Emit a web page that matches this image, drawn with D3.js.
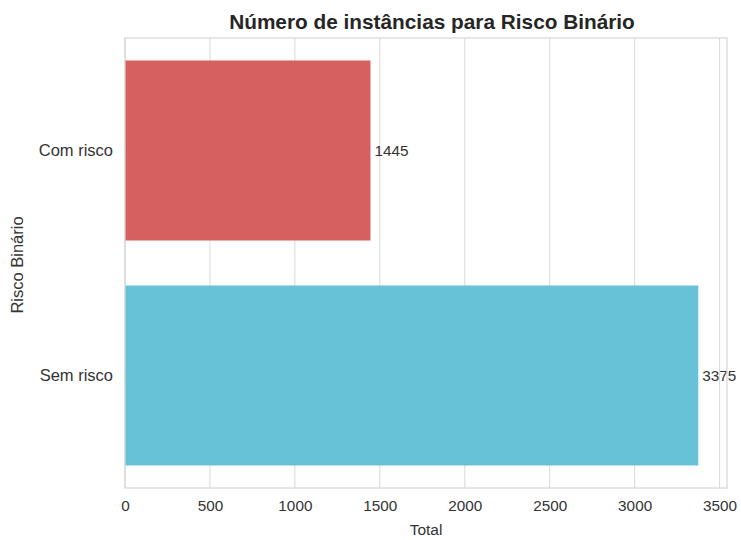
<!DOCTYPE html>
<html>
<head>
<meta charset="utf-8">
<script src="https://cdn.jsdelivr.net/npm/d3@7"></script>
<style>
  html, body { margin: 0; padding: 0; background: #fff; }
  svg { display: block; font-family: "Liberation Sans", Arial, sans-serif; }
</style>
</head>
<body>
<svg id="chart" width="741" height="540"></svg>
<script>
// Contagem de instâncias por classe de risco
const categories = ["Com risco", "Sem risco"];
const counts = [1445, 3375];
const barColors = ["#d65f5f", "#68c2d7"];
const xTicks = [0, 500, 1000, 1500, 2000, 2500, 3000, 3500];

const svg = d3.select("#chart");
const margin = { top: 38, right: 14, bottom: 52, left: 125 };
const W = 741, H = 540;
const innerW = W - margin.left - margin.right;
const innerH = H - margin.top - margin.bottom;
const FONT = "Liberation Sans, Arial, sans-serif";

const g = svg.append("g").attr("transform", `translate(${margin.left},${margin.top})`);

// 5% de folga à direita do maior valor
const xMax = d3.max(counts) * 1.05;
const x = d3.scaleLinear().domain([0, xMax]).range([0, innerW]);
const y = d3.scaleBand().domain(categories).range([0, innerH]).paddingInner(0.2).paddingOuter(0.1);

// Grade vertical
g.append("g").selectAll("line").data(xTicks).join("line")
  .attr("x1", d => x(d)).attr("x2", d => x(d))
  .attr("y1", 0).attr("y2", innerH)
  .attr("stroke", "#dcdcdc").attr("stroke-width", 1.1);

// Barras
g.append("g").selectAll("rect").data(categories).join("rect")
  .attr("x", x(0))
  .attr("y", d => y(d))
  .attr("width", (d, i) => x(counts[i]) - x(0))
  .attr("height", y.bandwidth())
  .attr("fill", (d, i) => barColors[i]);

// Rótulos de valor
g.append("g").selectAll("text").data(categories).join("text")
  .attr("x", (d, i) => x(counts[i]) + 4)
  .attr("y", d => y(d) + y.bandwidth() / 2)
  .attr("dy", "0.35em")
  .attr("font-size", 15.3)
  .attr("fill", "#333")
  .text((d, i) => counts[i]);

// Moldura
g.append("rect")
  .attr("x", 0).attr("y", 0).attr("width", innerW).attr("height", innerH)
  .attr("fill", "none").attr("stroke", "#d5d5d5").attr("stroke-width", 1.2);

// Eixo X
const xAxis = g.append("g").attr("transform", `translate(0,${innerH})`)
  .call(d3.axisBottom(x).tickValues(xTicks).tickSize(0).tickPadding(12).tickFormat(d3.format("d")));
xAxis.select(".domain").remove();
xAxis.selectAll("text").attr("font-size", 15.3).attr("fill", "#333").attr("font-family", FONT);

// Eixo Y
const yAxis = g.append("g")
  .call(d3.axisLeft(y).tickSize(0).tickPadding(12));
yAxis.select(".domain").remove();
yAxis.selectAll("text").attr("font-size", 16.5).attr("fill", "#333").attr("font-family", FONT);

// Títulos
svg.append("text")
  .attr("x", 432).attr("y", 29)
  .attr("text-anchor", "middle")
  .attr("font-size", 20.8).attr("font-weight", "bold").attr("fill", "#262626")
  .text("Número de instâncias para Risco Binário");

svg.append("text")
  .attr("x", margin.left + innerW / 2).attr("y", 535)
  .attr("text-anchor", "middle")
  .attr("font-size", 15.5).attr("fill", "#333")
  .text("Total");

svg.append("text")
  .attr("transform", `translate(23,${margin.top + innerH / 2 + 2}) rotate(-90)`)
  .attr("text-anchor", "middle")
  .attr("font-size", 16.5).attr("fill", "#333")
  .text("Risco Binário");
</script>
</body>
</html>
